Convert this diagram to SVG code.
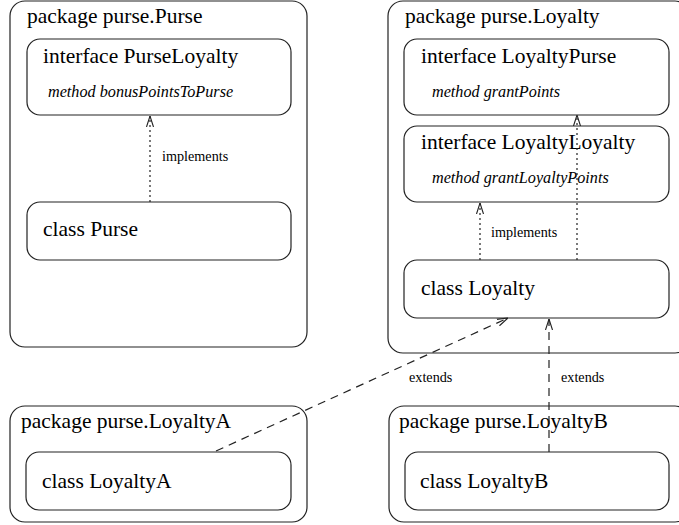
<svg xmlns="http://www.w3.org/2000/svg" width="679" height="525" viewBox="0 0 679 525">
  <style>
    .pkg { fill: #fff; stroke: #222; stroke-width: 1.2; }
    .box { fill: #fff; stroke: #222; stroke-width: 1.2; }
    .title { font-family: "Liberation Serif", "Times New Roman", serif; font-size: 21.5px; fill: #000; }
    .meth { font-family: "Liberation Serif", "Times New Roman", serif; font-size: 16.2px; font-style: italic; fill: #000; }
    .lbl { font-family: "Liberation Serif", "Times New Roman", serif; font-size: 14.2px; fill: #000; }
    .impl { fill: none; stroke: #222; stroke-width: 1.2; stroke-dasharray: 2 3; }
    .ext { fill: none; stroke: #222; stroke-width: 1.2; stroke-dasharray: 8 6; }
  </style>
  <defs>
    <!-- open V arrowhead shared by implements/extends links -->
    <marker id="open" viewBox="0 0 11 12" refX="11" refY="6" markerWidth="11" markerHeight="12" markerUnits="userSpaceOnUse" orient="auto">
      <path d="M0,2.5 L11,6 L0,9.5" fill="none" stroke="#222" stroke-width="1.1"/>
    </marker>
  </defs>
  <rect width="679" height="525" fill="#fff"/>

  <!-- package purse.Purse -->
  <g id="pkg-purse">
    <rect class="pkg" x="10" y="1" width="297" height="346" rx="15" ry="15"/>
    <text class="title" x="27" y="23">package purse.Purse</text>
  </g>
  <g id="iface-purseloyalty">
    <rect class="box" x="27" y="39" width="264" height="76" rx="13" ry="13"/>
    <text class="title" x="43" y="63">interface PurseLoyalty</text>
    <text class="meth" x="48" y="97">method bonusPointsToPurse</text>
  </g>
  <g id="class-purse">
    <rect class="box" x="27" y="202" width="264" height="58" rx="13" ry="13"/>
    <text class="title" x="43" y="236">class Purse</text>
  </g>

  <!-- package purse.Loyalty -->
  <g id="pkg-loyalty">
    <rect class="pkg" x="388" y="1" width="302" height="352" rx="15" ry="15"/>
    <text class="title" x="405" y="23">package purse.Loyalty</text>
  </g>
  <g id="iface-loyaltypurse">
    <rect class="box" x="404" y="39" width="265" height="76" rx="13" ry="13"/>
    <text class="title" x="421" y="63">interface LoyaltyPurse</text>
    <text class="meth" x="432" y="97">method grantPoints</text>
  </g>
  <g id="iface-loyaltyloyalty">
    <rect class="box" x="404" y="126" width="265" height="76" rx="13" ry="13"/>
    <text class="title" x="421" y="149">interface LoyaltyLoyalty</text>
    <text class="meth" x="432" y="183">method grantLoyaltyPoints</text>
  </g>
  <g id="class-loyalty">
    <rect class="box" x="404" y="260" width="265" height="58" rx="13" ry="13"/>
    <text class="title" x="421" y="295">class Loyalty</text>
  </g>

  <!-- package purse.LoyaltyA -->
  <g id="pkg-loyaltya">
    <rect class="pkg" x="10" y="406" width="297" height="116" rx="15" ry="15"/>
    <text class="title" x="21" y="428">package purse.LoyaltyA</text>
  </g>
  <g id="class-loyaltya">
    <rect class="box" x="26" y="452" width="265" height="58" rx="13" ry="13"/>
    <text class="title" x="42" y="488">class LoyaltyA</text>
  </g>

  <!-- package purse.LoyaltyB -->
  <g id="pkg-loyaltyb">
    <rect class="pkg" x="389" y="406" width="301" height="116" rx="15" ry="15"/>
    <text class="title" x="399" y="428">package purse.LoyaltyB</text>
  </g>
  <g id="class-loyaltyb">
    <rect class="box" x="405" y="452" width="264" height="58" rx="13" ry="13"/>
    <text class="title" x="420" y="488">class LoyaltyB</text>
  </g>

  <!-- connectors -->
  <g id="connectors">
    <path class="impl" d="M150,202 L150,116" marker-end="url(#open)"/>
    <text class="lbl" x="162" y="161">implements</text>

    <path class="impl" d="M480,260 L480,203" marker-end="url(#open)"/>
    <text class="lbl" x="491" y="237">implements</text>

    <path class="impl" d="M577,260 L577,115" marker-end="url(#open)"/>

    <path class="ext" d="M216,451 L508,318" marker-end="url(#open)"/>
    <text class="lbl" x="409" y="382">extends</text>

    <path class="ext" d="M549,452 L549,319" marker-end="url(#open)"/>
    <text class="lbl" x="561" y="382">extends</text>
  </g>
</svg>
